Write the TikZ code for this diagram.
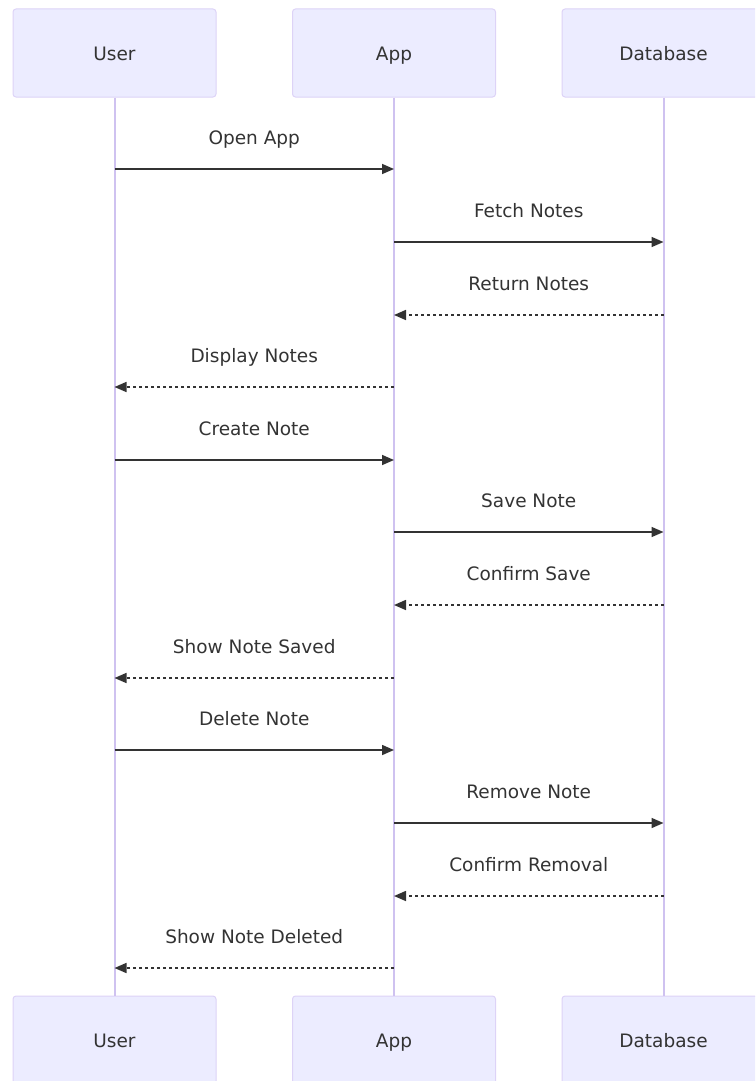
\documentclass[tikz,border=0pt]{standalone}
\usepackage{fontspec}
\setmainfont{DejaVu Sans}
\usetikzlibrary{arrows.meta}
\definecolor{actorfill}{HTML}{ECECFF}
\definecolor{actorline}{HTML}{DDD3F7}
\definecolor{lifeline}{HTML}{CFC2F0}
\definecolor{ink}{HTML}{333333}
\tikzset{
  actor/.style={draw=actorline, fill=actorfill, rounded corners=3pt, line width=1pt,
    minimum width=203pt, minimum height=88pt, inner sep=0pt, text=ink,
    text height=15.5pt, text depth=1.5pt,
    font=\fontsize{18.5}{22}\selectfont},
  life/.style={draw=lifeline, line width=2pt},
  call/.style={draw=ink, line width=1.6pt, -{Triangle[length=12pt,width=10pt]}},
  reply/.style={call, dash pattern=on 3pt off 3pt},
  msglabel/.style={midway, anchor=base, yshift=25pt, text=ink,
    font=\fontsize{18.5}{22}\selectfont}
}
\begin{document}
\begin{tikzpicture}[x=1pt, y=-1pt]
\useasboundingbox (0,0) rectangle (755,1081);
\clip (0,0) rectangle (755,1081);

% participants, top and bottom
\node[actor] (ut) at (114.5,53) {User};
\node[actor] (at) at (394,53) {App};
\node[actor] (dt) at (663.5,53) {Database};
\node[actor] (ub) at (114.5,1040) {User};
\node[actor] (ab) at (394,1040) {App};
\node[actor] (db) at (663.5,1040) {Database};

% lifelines
\draw[life] (ut.south) -- (ub.north);
\draw[life] (at.south) -- (ab.north);
\draw[life] (dt.south) -- (db.north);

% messages
\foreach \y/\src/\dst/\kind/\txt in {
  169/ut/at/call/Open App,
  242/at/dt/call/Fetch Notes,
  315/dt/at/reply/Return Notes,
  387/at/ut/reply/Display Notes,
  460/ut/at/call/Create Note,
  532/at/dt/call/Save Note,
  605/dt/at/reply/Confirm Save,
  678/at/ut/reply/Show Note Saved,
  750/ut/at/call/Delete Note,
  823/at/dt/call/Remove Note,
  896/dt/at/reply/Confirm Removal,
  968/at/ut/reply/Show Note Deleted}
{
  \draw[\kind] (\src |- 0,\y) -- node[msglabel] {\txt} (\dst |- 0,\y);
}
\end{tikzpicture}
\end{document}
